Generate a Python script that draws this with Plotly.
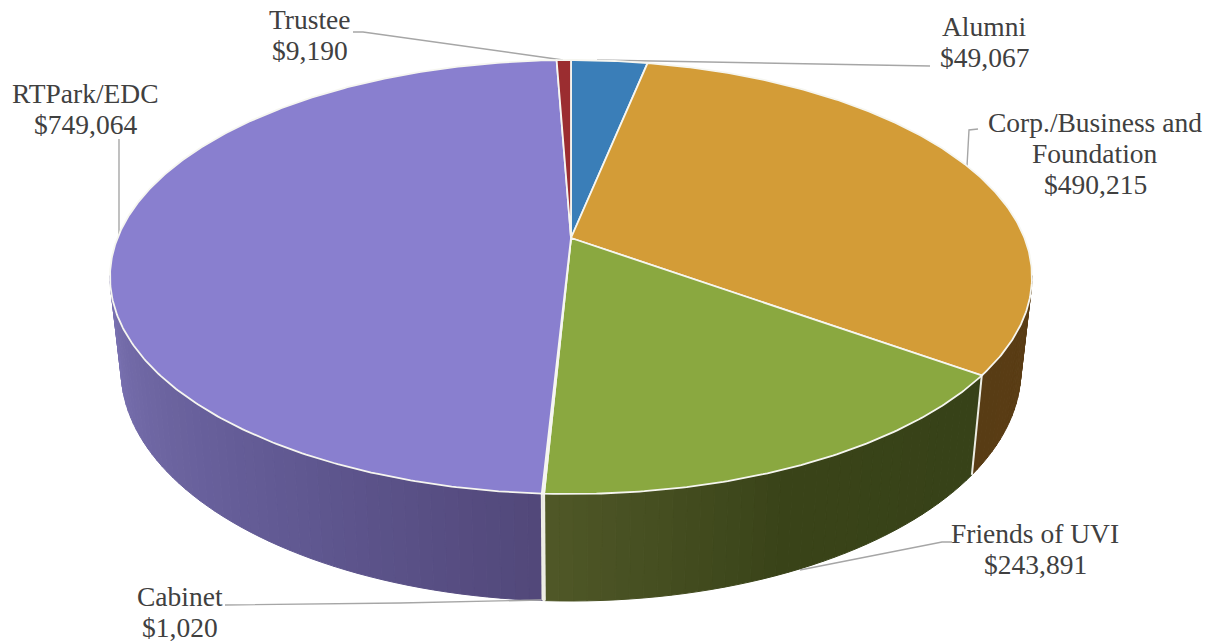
import numpy as np
import plotly.graph_objects as go

# Data, clockwise from 12 o'clock
categories = ["Alumni", "Corp./Business and<br>Foundation", "Friends of UVI", "Cabinet", "RTPark/EDC", "Trustee"]
amounts = [49067, 490215, 243891, 1020, 749064, 9190]
top_colors = ["#3A7EB8", "#D39C37", "#8AA840", "#EFEFE8", "#897FCF", "#9B2D30"]
# wall shading: (share of the visible wall of that slice, rgb)
wall_shades = {
    1: [(0.0, (92, 62, 22)), (1.0, (88, 60, 20))],
    2: [(0.0, (55, 66, 24)), (0.55, (58, 68, 25)), (1.0, (80, 88, 40))],
    3: [(0.0, (236, 236, 230)), (1.0, (236, 236, 230))],
    4: [(0.0, (82, 72, 122)), (0.35, (96, 88, 145)), (1.0, (122, 114, 178))],
}
label_pos = [(984, 42), (1095, 153), (1035, 549), (180, 612), (85, 109), (310, 35)]
leaders = [
    [(597, 60), (920, 66), (930, 66)],
    [(978, 129), (969, 130), (967, 166)],
    [(952, 542), (942, 542), (800, 570)],
    [(225, 605), (400, 603), (541, 600)],
    [(119, 139), (119, 238)],
    [(353, 32), (363, 32), (563, 60)],
]
LINE_STEP = 31

# Projection of the tilted disc onto the page
CX = 571.0
PERSP = 0.1797
TOP = dict(b=453.5, y0=238.0, a=167.2)
BOTTOM = dict(b=442.6, y0=328.5, a=164.5)


def project(t_deg, plane):
    t = np.radians(np.asarray(t_deg, dtype=float))
    sx, sy = np.sin(t), np.cos(t)
    d = 1 + PERSP * sy
    return CX + plane["b"] * sx / d, (plane["y0"] - plane["a"] * sy) / d


total = sum(amounts)
edges = np.concatenate([[0.0], np.cumsum(amounts) / total * 360.0])
WALL_FROM, WALL_TO = 100.0, 260.0

fig = go.Figure()


def shade(stops, f):
    fs = [s[0] for s in stops]
    return "rgb(%d,%d,%d)" % tuple(np.interp(f, fs, [s[1][i] for s in stops]) for i in range(3))


# Side walls, as thin shaded strips
for i, stops in wall_shades.items():
    lo, hi = max(edges[i], WALL_FROM), min(edges[i + 1], WALL_TO)
    if hi <= lo:
        continue
    n = max(1, int(np.ceil((hi - lo) / 1.5)))
    cuts = np.linspace(lo, hi, n + 1)
    for a, b in zip(cuts[:-1], cuts[1:]):
        arc = np.linspace(a, b, 4)
        tx, ty = project(arc, TOP)
        bx, by = project(arc[::-1], BOTTOM)
        col = shade(stops, ((a + b) / 2 - lo) / (hi - lo))
        fig.add_trace(go.Scatter(x=np.r_[tx, bx, tx[0]], y=np.r_[ty, by, ty[0]], mode="lines",
                                 fill="toself", fillcolor=col, line=dict(color=col, width=1),
                                 hoverinfo="skip", showlegend=False))

# White seams where the slices meet on the wall
for e in edges[1:-1]:
    if WALL_FROM < e < WALL_TO:
        tx, ty = project([e], TOP)
        bx, by = project([e], BOTTOM)
        fig.add_trace(go.Scatter(x=[tx[0], bx[0]], y=[ty[0], by[0]], mode="lines",
                                 line=dict(color="#EDEDE4", width=2), hoverinfo="skip", showlegend=False))

# Leader lines
for pts in leaders:
    fig.add_trace(go.Scatter(x=[p[0] for p in pts], y=[p[1] for p in pts], mode="lines",
                             line=dict(color="#A6A6A6", width=1.4), hoverinfo="skip", showlegend=False))

# Top face sectors
for i, name in enumerate(categories):
    arc = np.arange(edges[i], edges[i + 1], 0.5)
    arc = np.r_[arc, edges[i + 1]]
    ax, ay = project(arc, TOP)
    fig.add_trace(go.Scatter(x=np.r_[CX, ax, CX], y=np.r_[TOP["y0"], ay, TOP["y0"]], mode="lines",
                             fill="toself", fillcolor=top_colors[i],
                             line=dict(color="#F6F6F0", width=1.8),
                             name=name.replace("<br>", " "), text=f"${amounts[i]:,}",
                             hoverinfo="name+text", showlegend=False))

annotations = []
for name, val, (x, y) in zip(categories, amounts, label_pos):
    lines = name.split("<br>") + [f"${val:,}"]
    for k, line in enumerate(lines):
        annotations.append(dict(
            x=x, y=y + (k - (len(lines) - 1) / 2) * LINE_STEP, xref="x", yref="y",
            text=line, showarrow=False, xanchor="center", yanchor="middle",
            font=dict(family="Liberation Serif", size=27.5, color="#404040")))

fig.update_layout(
    width=1207, height=642, margin=dict(l=0, r=0, t=0, b=0),
    paper_bgcolor="white", plot_bgcolor="white", annotations=annotations,
    xaxis=dict(range=[0, 1207], visible=False, fixedrange=True),
    yaxis=dict(range=[642, 0], visible=False, fixedrange=True),
)
fig.write_html("out.html", config={"displayModeBar": False},
               post_script="document.body.style.margin='0';")
